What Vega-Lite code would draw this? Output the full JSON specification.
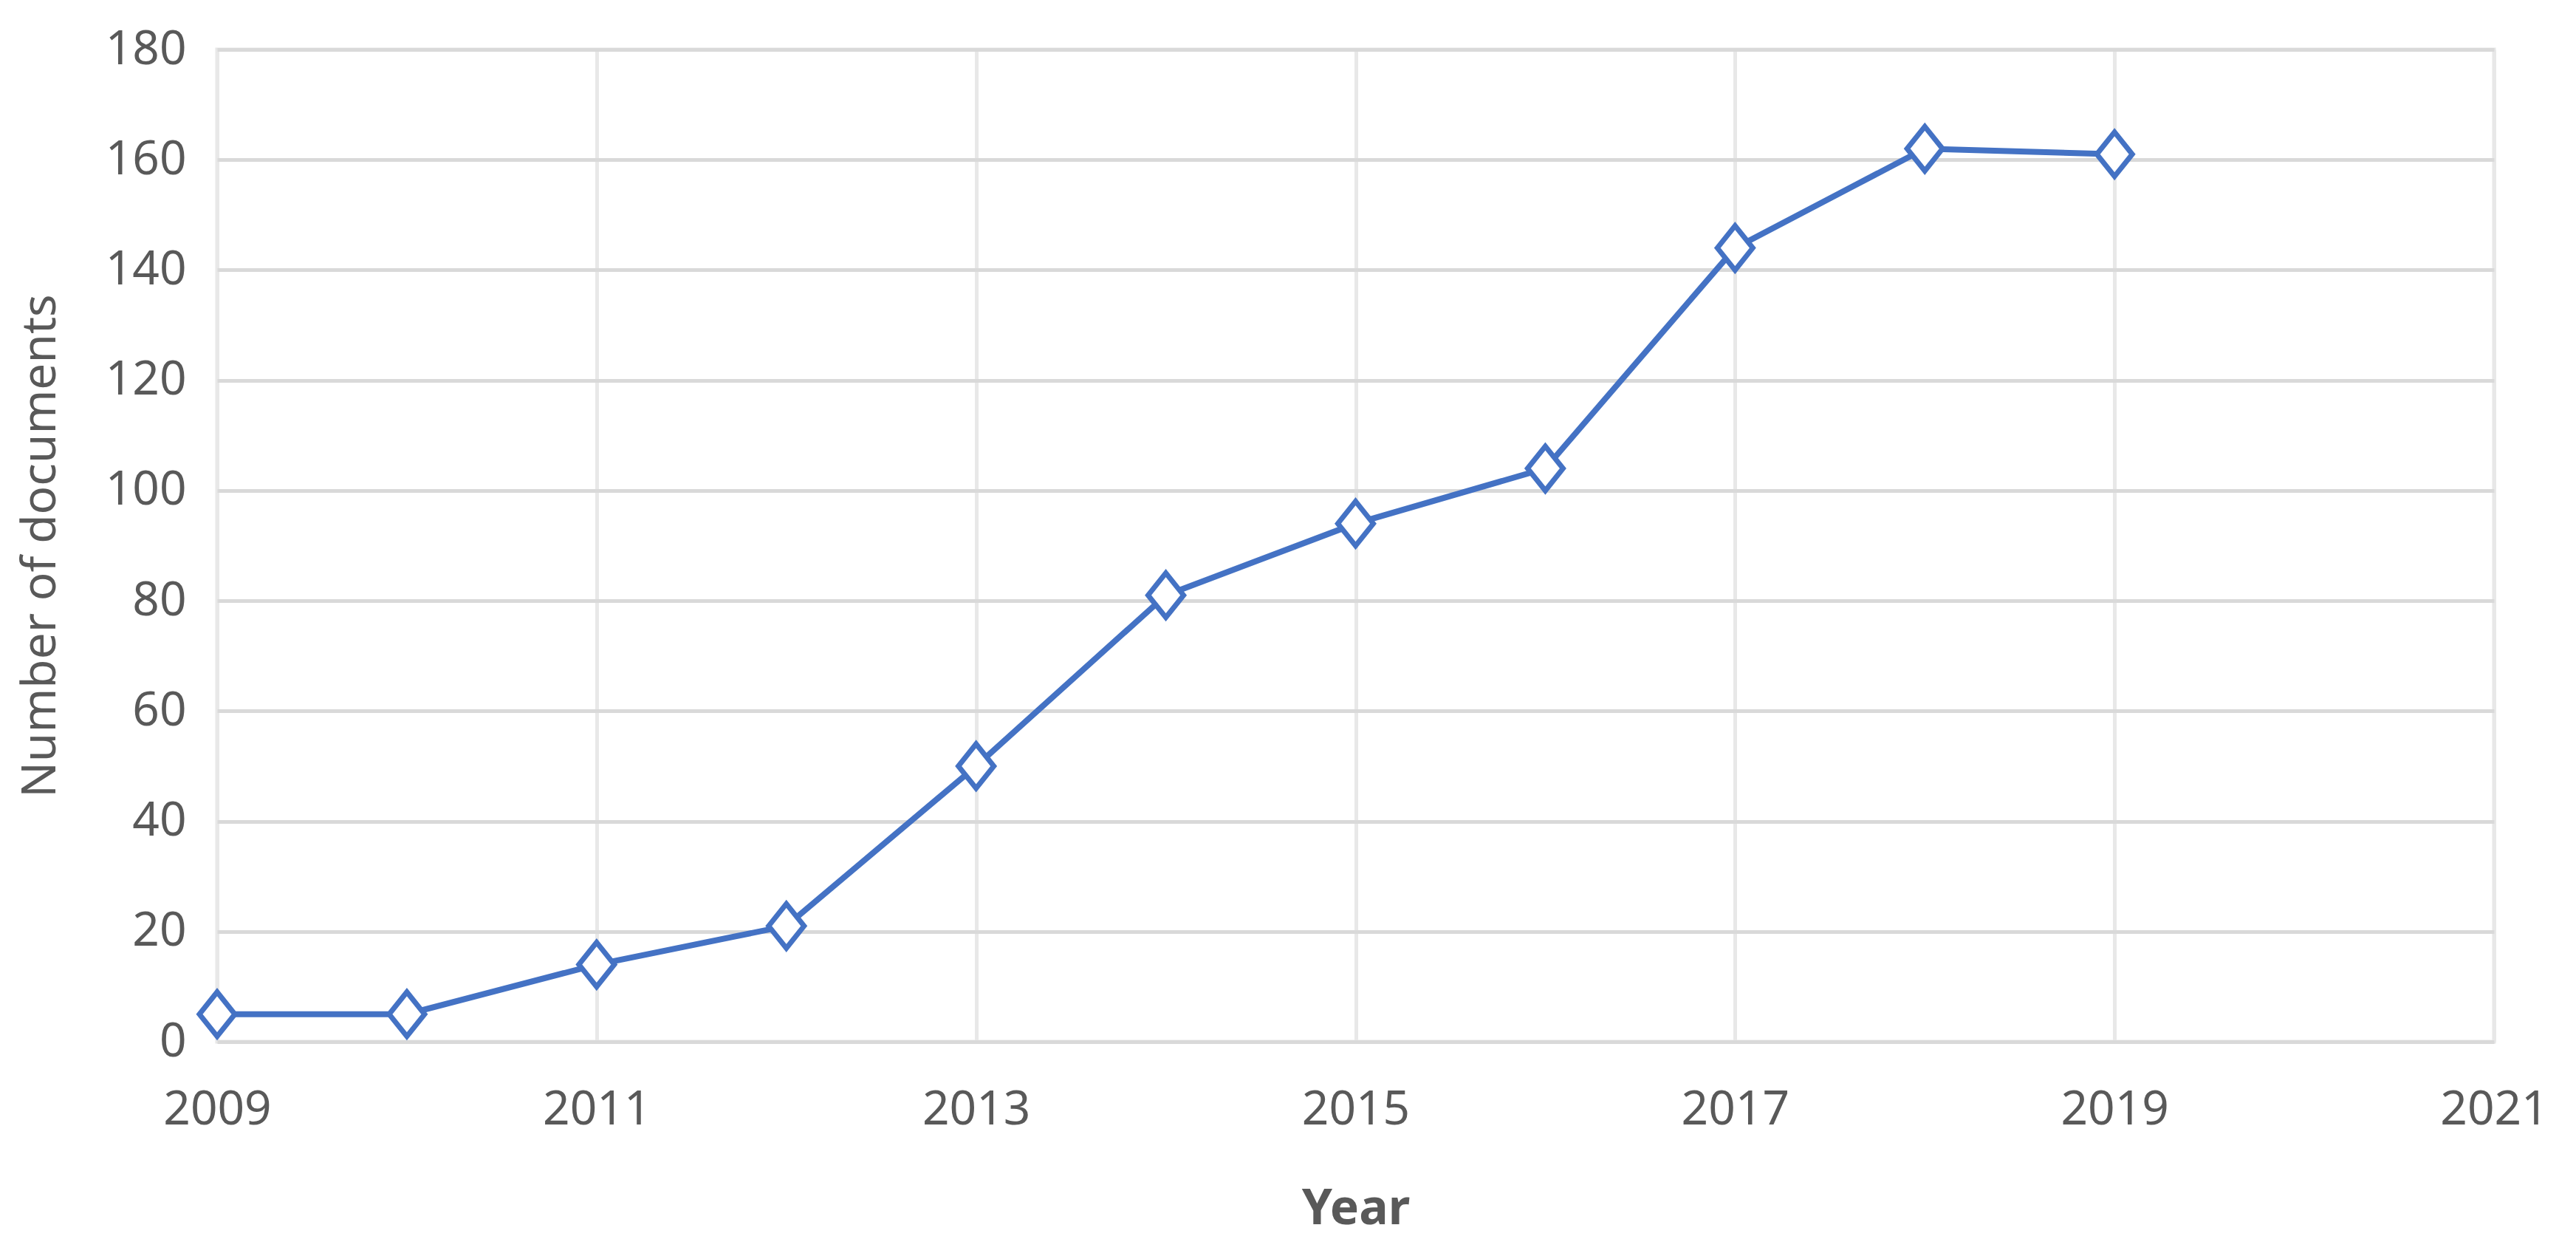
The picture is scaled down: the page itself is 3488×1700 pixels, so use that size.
{
  "$schema": "https://vega.github.io/schema/vega-lite/v6.json",
  "autosize": {"type": "none"},
  "padding": {"left": 294, "top": 67, "right": 111, "bottom": 290},
  "width": 3083,
  "height": 1343,
  "background": "white",
  "data": {
    "values": [
      {"year": 2009, "docs": 5},
      {"year": 2010, "docs": 5},
      {"year": 2011, "docs": 14},
      {"year": 2012, "docs": 21},
      {"year": 2013, "docs": 50},
      {"year": 2014, "docs": 81},
      {"year": 2015, "docs": 94},
      {"year": 2016, "docs": 104},
      {"year": 2017, "docs": 144},
      {"year": 2018, "docs": 162},
      {"year": 2019, "docs": 161}
    ]
  },
  "config": {
    "view": {"stroke": "#e6e6e6", "strokeWidth": 5},
    "font": "Noto Sans",
    "axis": {
      "labelFont": "Noto Sans",
      "titleFont": "Noto Sans",
      "labelFontSize": 64,
      "titleFontSize": 64,
      "labelColor": "#595959",
      "titleColor": "#595959",
      "domain": false,
      "ticks": false,
      "tickSize": 0,
      "gridColor": "#d9d9d9",
      "gridWidth": 5
    }
  },
  "encoding": {
    "x": {
      "field": "year",
      "type": "quantitative",
      "scale": {"domain": [2009, 2021], "nice": false, "zero": false},
      "axis": {
        "title": "Year",
        "values": [2009, 2011, 2013, 2015, 2017, 2019, 2021],
        "format": "d",
        "labelPadding": 60,
        "titlePadding": 70,
        "titleFontWeight": "bold",
        "titleFontSize": 66,
        "gridColor": "#e8e8e8",
        "labelFlush": false,
        "labelOverlap": false
      }
    },
    "y": {
      "field": "docs",
      "type": "quantitative",
      "scale": {"domain": [0, 180], "nice": false},
      "axis": {
        "title": "Number of documents",
        "values": [0, 20, 40, 60, 80, 100, 120, 140, 160, 180],
        "labelPadding": 42,
        "titlePadding": 55,
        "titleFontWeight": "normal",
        "labelFlush": false,
        "labelOverlap": false
      }
    }
  },
  "layer": [
    {
      "mark": {"type": "line", "color": "#4472C4", "strokeWidth": 8}
    },
    {
      "mark": {
        "type": "point",
        "shape": "M-0.8,0L0,-1L0.8,0L0,1Z",
        "size": 3600,
        "filled": true,
        "fill": "white",
        "stroke": "#4472C4",
        "strokeWidth": 7,
        "opacity": 1
      }
    }
  ]
}
